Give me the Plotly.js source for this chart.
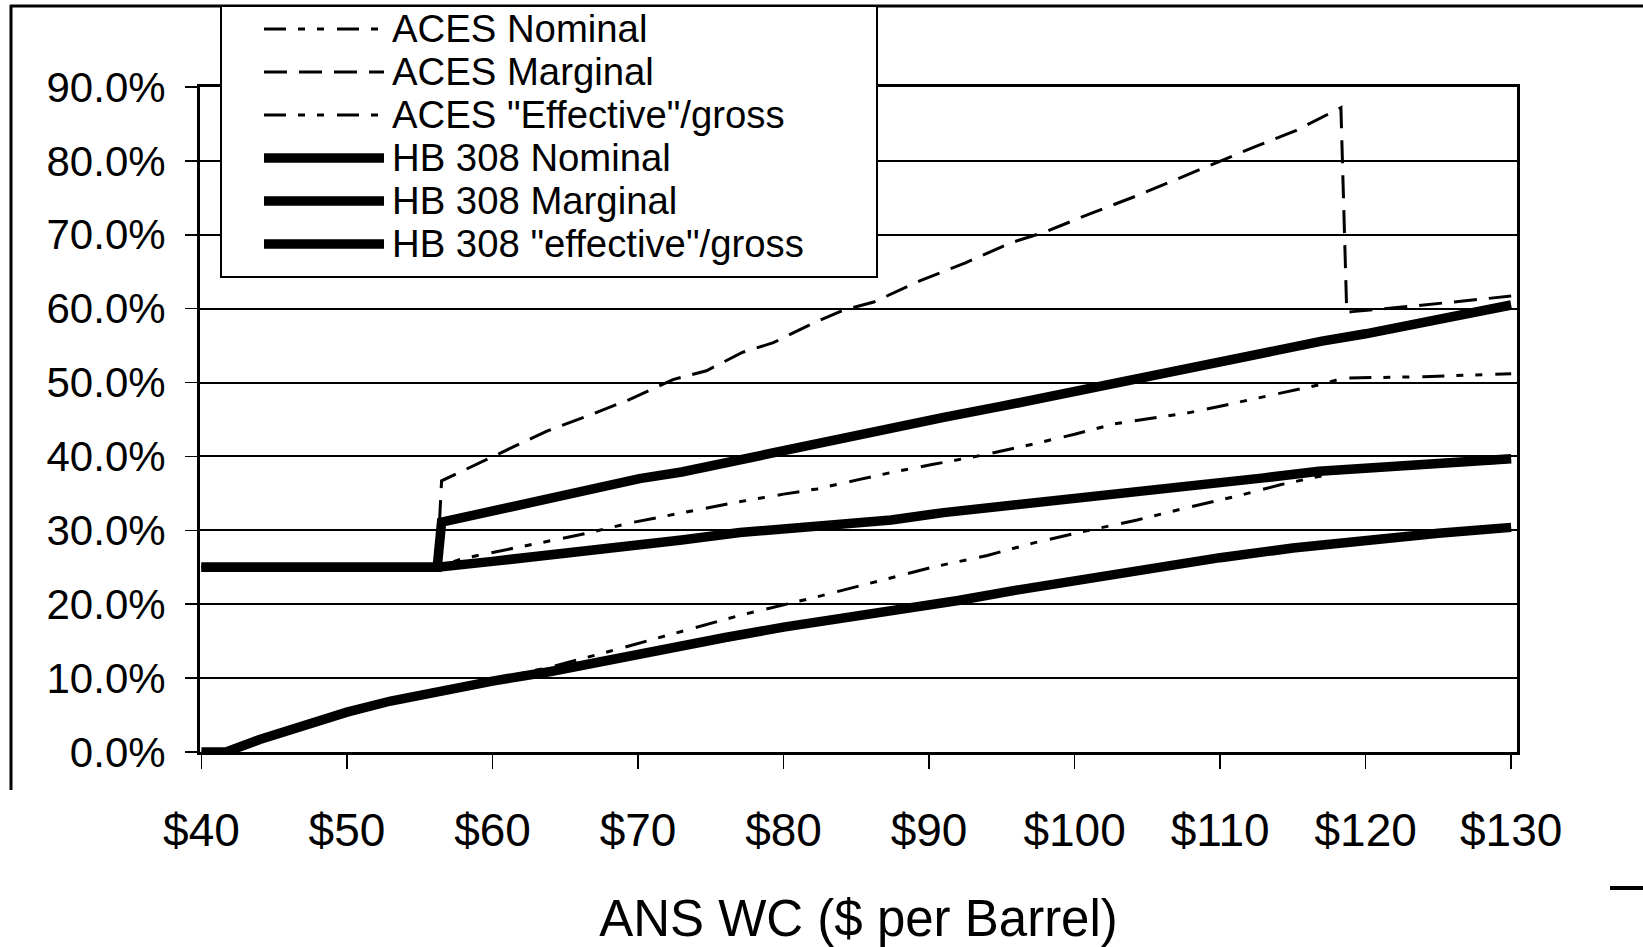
<!DOCTYPE html>
<html>
<head>
<meta charset="utf-8">
<script src="https://cdn.plot.ly/plotly-3.0.1.min.js"></script>
<style>
  html, body { margin: 0; padding: 0; background: #ffffff; }
  #chart { width: 1643px; height: 947px; }
</style>
</head>
<body>
<div id="chart"></div>
<script>
// ---------------- data ----------------
const seriesNames = [
  'ACES Nominal',
  'ACES Marginal',
  'ACES "Effective"/gross',
  'HB 308 Nominal',
  'HB 308 Marginal',
  'HB 308 "effective"/gross'
];

const xAcesNominal = [40, 56.2, 58, 60, 63.25, 66, 69.7, 73, 76.5, 80, 82.3, 85, 87.55, 90.2, 94, 97.2, 100, 102.7, 105, 107.8, 110, 112.9, 116.8, 118.5, 124, 130];
const yAcesNominal = [25, 25, 26.2, 27.0, 28.3, 29.4, 31.1, 32.4, 33.7, 34.9, 35.6, 36.8, 37.9, 38.9, 40.3, 41.7, 43.0, 44.4, 45.1, 45.9, 46.8, 48.0, 49.7, 50.6, 50.8, 51.2];

const xAcesMarginal = [40, 56.2, 56.5, 60, 63.7, 66.7, 69.4, 72.4, 74.7, 77.2, 79.3, 82, 84.1, 86.2, 89.4, 92.5, 95.6, 98, 101, 104.3, 107, 110.1, 112.5, 115.2, 118.3, 118.7, 119.1, 124, 130];
const yAcesMarginal = [25, 25, 36.7, 40.0, 43.4, 45.6, 47.7, 50.4, 51.6, 54.1, 55.4, 58.0, 59.8, 60.9, 63.8, 66.2, 68.9, 70.4, 72.8, 75.3, 77.5, 80.1, 82.0, 84.1, 87.2, 59.5, 59.6, 60.5, 61.7];

const xAcesEffective = [40, 41.7, 44, 46, 48, 50, 53, 56, 60, 64, 68, 72, 77, 82.3, 87.55, 90.2, 94, 97.2, 100.5, 104.3, 108, 111.3, 114.2, 118, 124, 130];
const yAcesEffective = [0, 0, 1.7, 3.0, 4.2, 5.4, 6.9, 8.1, 9.8, 11.5, 13.6, 15.8, 18.5, 21.0, 23.6, 25.0, 26.6, 28.3, 29.8, 31.4, 33.2, 34.7, 36.2, 37.8, 38.6, 39.3];

const xHbNominal = [40, 56.2, 60, 63.25, 66, 70.1, 73, 77, 80, 84, 87.4, 91, 95, 98.8, 102, 105, 109, 113, 116.8, 120, 125, 130];
const yHbNominal = [25, 25, 25.8, 26.5, 27.0, 27.9, 28.7, 29.7, 30.2, 30.9, 31.4, 32.4, 33.2, 34.1, 34.7, 35.4, 36.2, 37.1, 38.0, 38.4, 39.1, 39.7];

const xHbMarginal = [40, 56.2, 56.5, 60, 63.25, 66, 70.1, 73, 77, 80, 84, 88, 91, 95, 98, 101, 105, 109, 113, 117, 120, 125, 130];
const yHbMarginal = [25, 25, 31.1, 32.6, 34.0, 35.2, 37.0, 37.9, 39.6, 40.9, 42.5, 44.1, 45.3, 46.8, 48.0, 49.5, 51.0, 52.6, 54.2, 55.6, 56.6, 58.5, 60.5];

const xHbEffective = [40, 41.7, 44, 46, 48, 50, 53, 56, 60, 64, 68, 72, 76, 80, 84, 88, 92, 96, 100, 105, 110, 115, 120, 125, 130];
const yHbEffective = [0, 0, 1.7, 3.0, 4.2, 5.4, 6.9, 8.1, 9.6, 10.9, 12.5, 14.0, 15.5, 16.9, 18.0, 19.1, 20.5, 21.9, 23.2, 24.8, 26.3, 27.6, 28.7, 29.6, 30.4];

const xTickVals = [40, 50, 60, 70, 80, 90, 100, 110, 120, 130];
const xTickText = ['$40', '$50', '$60', '$70', '$80', '$90', '$100', '$110', '$120', '$130'];
const yTickVals = [0, 10, 20, 30, 40, 50, 60, 70, 80, 90];
const yTickText = ['0.0%', '10.0%', '20.0%', '30.0%', '40.0%', '50.0%', '60.0%', '70.0%', '80.0%', '90.0%'];

const xTitle = 'ANS WC ($ per Barrel)';

// ---------------- styles ----------------
const FONT = '"Liberation Sans", Arial, Helvetica, sans-serif';
const dashDotDot = '22px,12px,7px,12px,7px,13px';
const styles = [
  {color: '#000', width: 3, dash: dashDotDot},
  {color: '#000', width: 3, dash: '23px,12px'},
  {color: '#000', width: 3, dash: dashDotDot},
  {color: '#000', width: 9.5, dash: 'solid'},
  {color: '#000', width: 9.5, dash: 'solid'},
  {color: '#000', width: 9.5, dash: 'solid'}
];

const xs = [xAcesNominal, xAcesMarginal, xAcesEffective, xHbNominal, xHbMarginal, xHbEffective];
const ys = [yAcesNominal, yAcesMarginal, yAcesEffective, yHbNominal, yHbMarginal, yHbEffective];

const traces = seriesNames.map((name, i) => ({
  type: 'scatter',
  mode: 'lines',
  name: name,
  x: xs[i],
  y: ys[i],
  line: Object.assign({shape: 'linear'}, styles[i]),
  showlegend: false,
  hoverinfo: 'x+y+name'
}));

// ---------------- geometry ----------------
const W = 1643, H = 947;
const M = {l: 200, r: 126, t: 87, b: 195};
const plotW = W - M.l - M.r;
const plotH = H - M.t - M.b;
const px2x = px => (px - M.l) / plotW;
const py2y = py => (H - M.b - py) / plotH;

const shapes = [];
// remnants of the outer chart frame
shapes.push({type: 'line', xref: 'paper', yref: 'paper', x0: px2x(10), x1: px2x(1643), y0: py2y(6), y1: py2y(6), line: {color: '#000', width: 3}});
shapes.push({type: 'line', xref: 'paper', yref: 'paper', x0: px2x(11), x1: px2x(11), y0: py2y(5), y1: py2y(790), line: {color: '#000', width: 3}});
shapes.push({type: 'line', xref: 'paper', yref: 'paper', x0: px2x(1610), x1: px2x(1643), y0: py2y(888), y1: py2y(888), line: {color: '#000', width: 4}});

// legend box
shapes.push({type: 'rect', xref: 'paper', yref: 'paper', layer: 'above',
  x0: px2x(221), x1: px2x(877), y0: py2y(277), y1: py2y(6),
  fillcolor: '#ffffff', line: {color: '#000', width: 2}});

// legend keys + one multi-line legend text block
const ROW_GAP = 43;
const ROW_MID = 136.5;
const legendRows = seriesNames.map((_, i) => ROW_MID + (i - 2.5) * ROW_GAP);
seriesNames.forEach((name, i) => {
  shapes.push({type: 'line', xref: 'paper', yref: 'paper', layer: 'above',
    x0: px2x(264), x1: px2x(384), y0: py2y(legendRows[i]), y1: py2y(legendRows[i]),
    line: {color: '#000', width: styles[i].width, dash: styles[i].dash}});
});
const legendText = seriesNames
  .map(n => '<span style="font-size:38.3px">' + n + '</span>')
  .join('<br>');
const annotations = [{
  xref: 'paper', yref: 'paper',
  x: px2x(391), y: py2y(ROW_MID),
  xanchor: 'left', yanchor: 'middle', align: 'left',
  showarrow: false, borderpad: 0,
  text: legendText,
  font: {family: FONT, size: ROW_GAP / 1.3, color: '#000'}
}];

const layout = {
  width: W, height: H,
  margin: M,
  paper_bgcolor: '#ffffff',
  plot_bgcolor: '#ffffff',
  showlegend: false,
  font: {family: FONT, color: '#000'},
  xaxis: {
    range: [39.9, 130.4],
    tickvals: xTickVals,
    ticktext: xTickText,
    ticks: 'outside', ticklen: 14, tickwidth: 1.5, tickcolor: '#000',
    ticklabelstandoff: 22,
    tickfont: {family: FONT, size: 46, color: '#000'},
    showgrid: false, zeroline: false,
    showline: true, mirror: true, linecolor: '#000', linewidth: 3,
    title: {text: xTitle, font: {family: FONT, size: 51, color: '#000'}, standoff: 50}
  },
  yaxis: {
    range: [0, 90],
    tickvals: yTickVals,
    ticktext: yTickText,
    ticks: 'outside', ticklen: 12, tickwidth: 1.5, tickcolor: '#000',
    ticklabelstandoff: 11,
    tickfont: {family: FONT, size: 42, color: '#000'},
    showgrid: true, gridcolor: '#000', gridwidth: 2,
    zeroline: false,
    showline: true, mirror: true, linecolor: '#000', linewidth: 3
  },
  shapes: shapes,
  annotations: annotations
};

Plotly.newPlot('chart', traces, layout, {displayModeBar: false, staticPlot: true});
</script>
</body>
</html>
